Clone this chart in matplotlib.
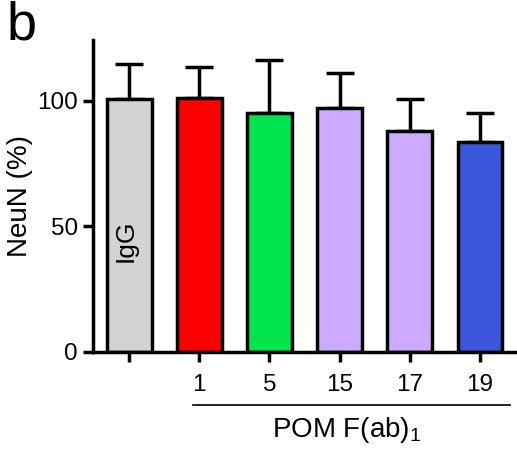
import matplotlib.pyplot as plt
import numpy as np

plt.rcParams['font.family'] = ['Liberation Sans', 'DejaVu Sans']
plt.rcParams['mathtext.fontset'] = 'custom'
plt.rcParams['mathtext.rm'] = 'Liberation Sans'
plt.rcParams['mathtext.it'] = 'Liberation Sans'

# NeuN values (% of IgG) with upper SEM
groups = ['IgG', '1', '5', '15', '17', '19']
tick_labels = ['', '1', '5', '15', '17', '19']
means = [100.5, 101, 95, 97, 88, 83.5]
errs = [14, 12.5, 21, 14, 12.5, 11.5]
colors = ['#d3d3d3', '#ff0000', '#00e64c', '#cbaaff', '#cbaaff', '#3b55dd']

fig = plt.figure(figsize=(5.17, 4.5), dpi=100)
ax = fig.add_axes([0.18, 0.2184, 0.82, 0.692])

x = np.arange(len(groups))
lw = 2.5
ax.errorbar(x, means, yerr=[np.zeros(len(errs)), errs], fmt='none',
            ecolor='black', elinewidth=lw, capsize=10, capthick=lw, zorder=1)
ax.bar(x, means, width=0.64, color=colors, edgecolor='black', linewidth=lw, zorder=2)

ax.set_xlim(-0.513, 5.527)
ax.set_ylim(0, 124)
ax.set_yticks([0, 50, 100])
ax.set_xticks(x)
ax.set_xticklabels(tick_labels)

for s in ['top', 'right']:
    ax.spines[s].set_visible(False)
for s in ['left', 'bottom']:
    ax.spines[s].set_linewidth(lw)
ax.tick_params(width=lw, length=7, labelsize=17.5)
ax.tick_params(axis='x', pad=9)
ax.tick_params(axis='y', pad=4)

ax.set_ylabel('NeuN (%)', fontsize=20, labelpad=3)

ax.text(-0.05, 44, 'IgG', rotation=90, ha='center', va='center', fontsize=19)

# group line and label under the POM bars
ax.plot([0.91, 5.43], [-0.17, -0.17], color='black', lw=1.2,
        transform=ax.get_xaxis_transform(), clip_on=False)
ax.text(3.1, -0.25, r'POM F(ab)$_\mathrm{1}$', ha='center', va='center', fontsize=20,
        transform=ax.get_xaxis_transform())

fig.text(7 / 517, 0.912, 'b', fontsize=39, ha='left', va='baseline')

fig.savefig('out.png', dpi=100)
